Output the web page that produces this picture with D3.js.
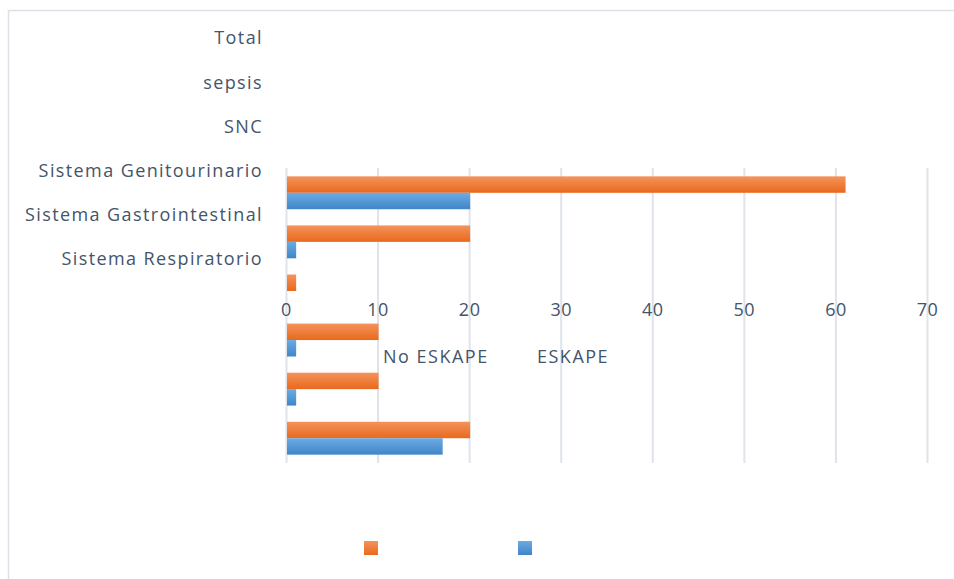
<!DOCTYPE html>
<html>
<head>
<meta charset="utf-8">
<script src="https://cdn.jsdelivr.net/npm/d3@7"></script>
<style>
  body { margin: 0; background: #fff; }
  svg { display: block; }
  text { font-family: 'Open Sans', sans-serif; fill: #44546a; }
</style>
</head>
<body>
<div id="chart"></div>
<script>
const categories = ["Total", "sepsis", "SNC", "Sistema Genitourinario", "Sistema Gastrointestinal", "Sistema Respiratorio"]
const seriesNames = ["No ESKAPE", "ESKAPE"]
const noEskape = [61, 20, 1, 10, 10, 20]
const eskape = [20, 1, 0, 1, 1, 17]
const xTicks = [0, 10, 20, 30, 40, 50, 60, 70]

const w = 954
const h = 579

const rows = categories.map((c, i) => ({ cat: c, values: [noEskape[i], eskape[i]] }))

const gradients = {
  "No ESKAPE": ["#f4935c", "#e9691c"],
  "ESKAPE": ["#6cabe3", "#3f86c8"]
}

const x = d3.scaleLinear()
  .domain([0, 70])
  .range([286, 927])

const y = d3.scaleBand()
  .domain(categories)
  .range([168, 463])
  .paddingInner(0.33)
  .paddingOuter(0.17)

const ySeries = d3.scaleBand()
  .domain(seriesNames)
  .range([0, y.bandwidth()])

// the category labels sit above the plot, as in the original
const yLabel = d3.scaleBand()
  .domain(categories)
  .range([16, 281])

const legendX = d3.scalePoint()
  .domain(seriesNames)
  .range([364, 518])

const svg = d3.select('#chart').append('svg')
  .attr('width', w)
  .attr('height', h)

const defs = svg.append('defs')
seriesNames.forEach((s, i) => {
  const g = defs.append('linearGradient')
    .attr('id', `grad${i}`)
    .attr('x1', 0).attr('y1', 0)
    .attr('x2', 0).attr('y2', 1)
  g.append('stop').attr('offset', '0%').attr('stop-color', gradients[s][0])
  g.append('stop').attr('offset', '100%').attr('stop-color', gradients[s][1])
})

svg.append('rect')
  .attr('width', w)
  .attr('height', h)
  .attr('fill', '#fff')

// frame
svg.append('rect')
  .attr('x', 8.5)
  .attr('y', 10.5)
  .attr('width', 1200)
  .attr('height', 1200)
  .attr('fill', 'none')
  .attr('stroke', '#dde1e7')
  .attr('stroke-width', 1.5)

// gridlines
svg.append('g')
  .attr('transform', `translate(0,${y.range()[0]})`)
  .call(d3.axisBottom(x).tickValues(xTicks).tickSize(y.range()[1] - y.range()[0]).tickFormat(''))
  .call(g => g.select('.domain').remove())
  .call(g => g.selectAll('.tick line')
    .attr('stroke', '#dfe3ea')
    .attr('stroke-width', 2))

// bars
const groups = svg.selectAll('g.cat')
  .data(rows).enter()
  .append('g')
    .classed('cat', true)
    .attr('transform', d => `translate(0,${y(d.cat)})`)

groups.selectAll('rect')
  .data(d => d.values.map((v, i) => ({ series: seriesNames[i], value: v, idx: i })))
  .enter()
  .append('rect')
    .attr('x', x(0) + 1)
    .attr('y', d => ySeries(d.series))
    .attr('width', d => Math.max(0, x(d.value) - x(0)))
    .attr('height', ySeries.bandwidth())
    .attr('fill', d => `url(#grad${d.idx})`)

// value axis labels
svg.append('g')
  .attr('transform', 'translate(0,316)')
  .call(d3.axisBottom(x).tickValues(xTicks).tickSize(0))
  .call(g => g.select('.domain').remove())
  .call(g => g.selectAll('.tick text')
    .attr('y', 0)
    .attr('dy', 0)
    .style('font-size', '18px')
    .style('letter-spacing', '0.5px')
    .attr('fill', '#44546a'))

// category labels
svg.append('g')
  .selectAll('text')
  .data(categories).enter()
  .append('text')
    .attr('x', 263)
    .attr('y', d => yLabel(d) + yLabel.bandwidth() / 2)
    .attr('dy', '0.35em')
    .attr('text-anchor', 'end')
    .style('font-size', '18px')
    .style('letter-spacing', '1.4px')
    .text(d => d)

// legend texts, displaced into the plot
svg.append('g')
  .selectAll('text')
  .data(seriesNames).enter()
  .append('text')
    .attr('x', d => legendX(d) + 19)
    .attr('y', 357)
    .attr('dy', '0.35em')
    .style('font-size', '18px')
    .style('letter-spacing', '1.5px')
    .text(d => d)

// legend markers
svg.append('g')
  .selectAll('rect')
  .data(seriesNames).enter()
  .append('rect')
    .attr('x', d => legendX(d))
    .attr('y', 541)
    .attr('width', 14)
    .attr('height', 14)
    .attr('fill', (d, i) => `url(#grad${i})`)
</script>
</body>
</html>
